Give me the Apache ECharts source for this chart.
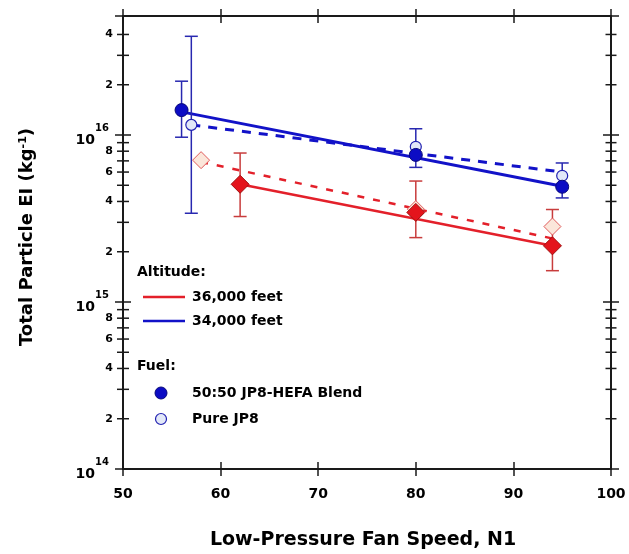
<!DOCTYPE html>
<html>
<head>
<meta charset="utf-8">
<script src="https://cdn.jsdelivr.net/npm/echarts@6/dist/echarts.min.js"></script>
<style>html,body{margin:0;padding:0;background:#fff;}#c{width:629px;height:554px;}</style>
</head>
<body>
<div id="c"></div>
<script>
// ---- axis definitions ----
const xMin = 50, xMax = 100, xInterval = 10;
const yMin = 1e14, yMax = 5.16e16;
const minorTickValues = [2e14,3e14,4e14,5e14,6e14,7e14,8e14,9e14,
                         2e15,3e15,4e15,5e15,6e15,7e15,8e15,9e15,
                         2e16,3e16,4e16];
const minorLabelValues = [2e14,4e14,6e14,8e14,2e15,4e15,6e15,8e15,2e16,4e16];
const minorLabelTexts  = ['2','4','6','8','2','4','6','8','2','4'];

// ---- 34,000 ft, 50:50 blend (filled blue circles) ----
const alt34BlendX    = [56, 80, 95];
const alt34BlendY    = [1.41e16, 7.6e15, 4.9e15];
const alt34BlendLow  = [0.97e16, 6.4e15, 4.2e15];
const alt34BlendHigh = [2.1e16, 1.09e16, 6.8e15];
// ---- 34,000 ft, pure JP8 (open blue circles) ----
const alt34PureX    = [57, 80, 95];
const alt34PureY    = [1.15e16, 8.5e15, 5.7e15];
const alt34PureErrX = [57];
const alt34PureLow  = [3.4e15];
const alt34PureHigh = [3.9e16];
// ---- 36,000 ft, 50:50 blend (filled red diamonds) ----
const alt36BlendX    = [62, 80, 94];
const alt36BlendY    = [5.07e15, 3.44e15, 2.17e15];
const alt36BlendLow  = [3.25e15, 2.43e15, 1.54e15];
const alt36BlendHigh = [7.8e15, 5.3e15, 3.58e15];
// ---- 36,000 ft, pure JP8 (open red diamonds) ----
const alt36PureX = [58, 80, 94];
const alt36PureY = [7.07e15, 3.6e15, 2.83e15];

// ---- fit lines ----
const fit34BlendX = [56, 95];  const fit34BlendY = [1.376e16, 4.93e15];
const fit34PureX  = [57, 95];  const fit34PureY  = [1.15e16, 6.0e15];
const fit36BlendX = [62, 94];  const fit36BlendY = [5.07e15, 2.17e15];
const fit36PureX  = [58, 94];  const fit36PureY  = [6.9e15, 2.4e15];

const BLUE = '#1212c8', RED = '#e3202a';
const BLUE_ERR = '#2828b0', RED_ERR = '#c83c3c';
const FONT = 'DejaVu Sans';

function pairs(xs, ys) { return xs.map((x, i) => [x, ys[i]]); }
function triples(xs, lo, hi) { return xs.map((x, i) => [x, lo[i], hi[i]]); }

function errRender(color) {
  return function (params, api) {
    const x = api.value(0), lo = api.value(1), hi = api.value(2);
    const a = api.coord([x, lo]), b = api.coord([x, hi]);
    const w = 6.5;
    const st = { stroke: color, lineWidth: 1.5 };
    return { type: 'group', children: [
      { type: 'line', shape: { x1: a[0], y1: a[1], x2: b[0], y2: b[1] }, style: st },
      { type: 'line', shape: { x1: a[0]-w, y1: a[1], x2: a[0]+w, y2: a[1] }, style: st },
      { type: 'line', shape: { x1: b[0]-w, y1: b[1], x2: b[0]+w, y2: b[1] }, style: st }
    ]};
  };
}

const gridPos = { left: 123, right: 18, top: 16, bottom: 85 };
const axisLine = { show: true, onZero: false, lineStyle: { color: '#1a1a1a', width: 2 } };

function decadeLabel(v) {
  const e = Math.log10(v);
  if (Math.abs(e - Math.round(e)) < 1e-6) return '{b|10}{s|' + Math.round(e) + '}';
  return '';
}

const xBase = { type: 'value', min: xMin, max: xMax, interval: xInterval, splitLine: { show: false }, axisLine: axisLine };
const yBase = { type: 'log', logBase: 10, min: yMin, max: yMax, splitLine: { show: false }, axisLine: axisLine, minorTick: { show: false } };

const option = {
  animation: false,
  backgroundColor: '#fff',
  grid: [Object.assign({}, gridPos), Object.assign({}, gridPos)],
  xAxis: [
    Object.assign({}, xBase, { gridIndex: 0, position: 'bottom',
      axisTick: { show: true, inside: false, length: 7, lineStyle: { color: '#1a1a1a', width: 1.5 } },
      axisLabel: { show: true, margin: 18, color: '#000', fontFamily: FONT, fontWeight: 'bold', fontSize: 14 } }),
    Object.assign({}, xBase, { gridIndex: 0, position: 'top',
      axisTick: { show: true, inside: false, length: 7, lineStyle: { color: '#1a1a1a', width: 1.5 } },
      axisLabel: { show: false } }),
    Object.assign({}, xBase, { gridIndex: 1, position: 'bottom',
      axisTick: { show: true, inside: true, length: 7, lineStyle: { color: '#1a1a1a', width: 1.5 } },
      axisLabel: { show: false } }),
    Object.assign({}, xBase, { gridIndex: 1, position: 'top',
      axisTick: { show: true, inside: true, length: 7, lineStyle: { color: '#1a1a1a', width: 1.5 } },
      axisLabel: { show: false } })
  ],
  yAxis: [
    Object.assign({}, yBase, { gridIndex: 0, position: 'left',
      axisTick: { show: true, inside: false, length: 8, lineStyle: { color: '#1a1a1a', width: 1.5 } },
      axisLabel: { show: true, margin: 14, formatter: decadeLabel, color: '#000',
        rich: {
          b: { fontFamily: FONT, fontWeight: 'bold', fontSize: 14, lineHeight: 24, verticalAlign: 'bottom', color: '#000' },
          s: { fontFamily: FONT, fontWeight: 'bold', fontSize: 10, lineHeight: 10, verticalAlign: 'top', color: '#000' }
        } } }),
    Object.assign({}, yBase, { gridIndex: 0, position: 'right',
      axisTick: { show: true, inside: false, length: 8, lineStyle: { color: '#1a1a1a', width: 1.5 } },
      axisLabel: { show: false } }),
    Object.assign({}, yBase, { gridIndex: 1, position: 'left',
      axisTick: { show: true, inside: true, length: 8, lineStyle: { color: '#1a1a1a', width: 1.5 } },
      axisLabel: { show: false } }),
    Object.assign({}, yBase, { gridIndex: 1, position: 'right',
      axisTick: { show: true, inside: true, length: 8, lineStyle: { color: '#1a1a1a', width: 1.5 } },
      axisLabel: { show: false } })
  ],
  series: [
    // minor ticks, left axis (with labels)
    { type: 'scatter', xAxisIndex: 0, yAxisIndex: 0, clip: false, silent: true, z: 5,
      symbol: 'rect', symbolSize: [12, 1.5], itemStyle: { color: '#1a1a1a', opacity: 1 },
      data: minorTickValues.map(v => {
        const k = minorLabelValues.indexOf(v);
        return { value: [xMin, v], label: { show: k >= 0, formatter: k >= 0 ? minorLabelTexts[k] : '' } };
      }),
      label: { position: 'left', distance: 4, color: '#000', fontFamily: FONT, fontWeight: 'bold', fontSize: 11 } },
    // minor ticks, right axis
    { type: 'scatter', xAxisIndex: 0, yAxisIndex: 0, clip: false, silent: true, z: 5,
      symbol: 'rect', symbolSize: [11, 1.5], itemStyle: { color: '#1a1a1a', opacity: 1 },
      data: minorTickValues.map(v => [xMax, v]) },

    // fit lines
    { type: 'line', xAxisIndex: 0, yAxisIndex: 0, data: pairs(fit34BlendX, fit34BlendY), showSymbol: false, symbol: 'none', z: 2,
      lineStyle: { color: BLUE, width: 3 } },
    { type: 'line', xAxisIndex: 0, yAxisIndex: 0, data: pairs(fit34PureX, fit34PureY), showSymbol: false, symbol: 'none', z: 2,
      lineStyle: { color: BLUE, width: 3, type: [9, 8] } },
    { type: 'line', xAxisIndex: 0, yAxisIndex: 0, data: pairs(fit36BlendX, fit36BlendY), showSymbol: false, symbol: 'none', z: 2,
      lineStyle: { color: RED, width: 2.5 } },
    { type: 'line', xAxisIndex: 0, yAxisIndex: 0, data: pairs(fit36PureX, fit36PureY), showSymbol: false, symbol: 'none', z: 2,
      lineStyle: { color: RED, width: 2.5, type: [7, 9] } },

    // error bars
    { type: 'custom', xAxisIndex: 0, yAxisIndex: 0, z: 3, renderItem: errRender(BLUE_ERR),
      data: triples(alt34BlendX, alt34BlendLow, alt34BlendHigh) },
    { type: 'custom', xAxisIndex: 0, yAxisIndex: 0, z: 3, renderItem: errRender(BLUE_ERR),
      data: triples(alt34PureErrX, alt34PureLow, alt34PureHigh) },
    { type: 'custom', xAxisIndex: 0, yAxisIndex: 0, z: 3, renderItem: errRender(RED_ERR),
      data: triples(alt36BlendX, alt36BlendLow, alt36BlendHigh) },

    // markers
    { type: 'scatter', xAxisIndex: 0, yAxisIndex: 0, z: 4, symbol: 'diamond', symbolSize: 17,
      itemStyle: { color: '#fbe6da', borderColor: '#e05a5a', borderWidth: 1, opacity: 1 },
      data: pairs(alt36PureX, alt36PureY) },
    { type: 'scatter', xAxisIndex: 0, yAxisIndex: 0, z: 4, symbol: 'diamond', symbolSize: 18,
      itemStyle: { color: '#e4141c', borderColor: '#a01010', borderWidth: 1, opacity: 1 },
      data: pairs(alt36BlendX, alt36BlendY) },
    { type: 'scatter', xAxisIndex: 0, yAxisIndex: 0, z: 4, symbol: 'circle', symbolSize: 11,
      itemStyle: { color: '#e2e8f8', borderColor: '#2020b0', borderWidth: 1.2, opacity: 1 },
      data: pairs(alt34PureX, alt34PureY) },
    { type: 'scatter', xAxisIndex: 0, yAxisIndex: 0, z: 4, symbol: 'circle', symbolSize: 13,
      itemStyle: { color: '#0c0cc4', borderColor: '#08087a', borderWidth: 1, opacity: 1 },
      data: pairs(alt34BlendX, alt34BlendY) }
  ],
  graphic: [
    { type: 'text', x: 363, y: 540, style: { text: 'Low-Pressure Fan Speed, N1', fill: '#000',
        font: 'bold 19px "DejaVu Sans"', align: 'center', verticalAlign: 'middle' } },
    { type: 'text', x: 27, y: 237, rotation: Math.PI / 2,
      style: { text: 'Total Particle EI (kg{sup|-1})', fill: '#000', font: 'bold 18px "DejaVu Sans"',
        align: 'center', verticalAlign: 'middle',
        rich: { sup: { fontFamily: FONT, fontWeight: 'bold', fontSize: 11, verticalAlign: 'top', lineHeight: 12, fill: '#000' } } } },
    // legend
    { type: 'text', x: 137, y: 272, style: { text: 'Altitude:', fill: '#000', font: 'bold 14px "DejaVu Sans"', verticalAlign: 'middle' } },
    { type: 'line', shape: { x1: 143, y1: 297, x2: 185, y2: 297 }, style: { stroke: RED, lineWidth: 2.5 } },
    { type: 'text', x: 192, y: 297, style: { text: '36,000 feet', fill: '#000', font: 'bold 14px "DejaVu Sans"', verticalAlign: 'middle' } },
    { type: 'line', shape: { x1: 143, y1: 321, x2: 185, y2: 321 }, style: { stroke: BLUE, lineWidth: 2.5 } },
    { type: 'text', x: 192, y: 321, style: { text: '34,000 feet', fill: '#000', font: 'bold 14px "DejaVu Sans"', verticalAlign: 'middle' } },
    { type: 'text', x: 137, y: 366, style: { text: 'Fuel:', fill: '#000', font: 'bold 14px "DejaVu Sans"', verticalAlign: 'middle' } },
    { type: 'circle', shape: { cx: 161, cy: 393, r: 6 }, style: { fill: '#0c0cc4', stroke: '#08087a', lineWidth: 1 } },
    { type: 'text', x: 192, y: 393, style: { text: '50:50 JP8-HEFA Blend', fill: '#000', font: 'bold 14px "DejaVu Sans"', verticalAlign: 'middle' } },
    { type: 'circle', shape: { cx: 161, cy: 419, r: 5.5 }, style: { fill: '#e2e8f8', stroke: '#2020b0', lineWidth: 1.2 } },
    { type: 'text', x: 192, y: 419, style: { text: 'Pure JP8', fill: '#000', font: 'bold 14px "DejaVu Sans"', verticalAlign: 'middle' } }
  ]
};

const chart = echarts.init(document.getElementById('c'), null, { renderer: 'canvas' });
chart.setOption(option);
</script>
</body>
</html>
